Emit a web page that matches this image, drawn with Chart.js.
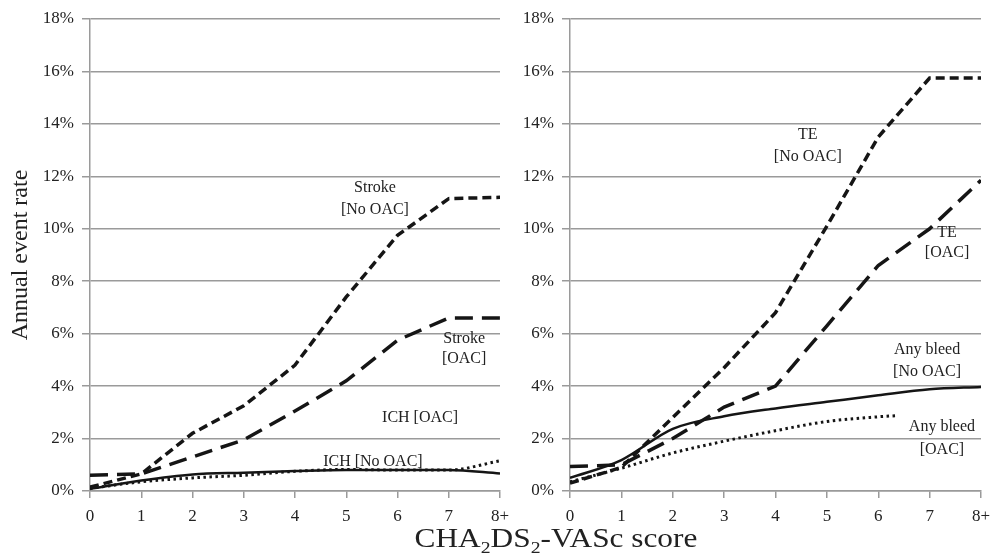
<!DOCTYPE html>
<html>
<head>
<meta charset="utf-8">
<script src="https://cdn.jsdelivr.net/npm/chart.js@4"></script>
<style>
  body { margin: 0; background: #fff; }
  #page { position: relative; width: 990px; height: 557px; font-family: "Liberation Serif", serif; }
  #gauche { position: absolute; left: 0; top: 0; }
  #droite { position: absolute; left: 510px; top: 0; }
  #titreX { position: absolute; left: 0; width: 1112px; top: 523px; text-align: center; font-size: 27px; color: #222; white-space: nowrap; transform: scaleX(1.16); transform-origin: 556px 0; }
  #titreX sub { font-size: 17px; vertical-align: -6px; line-height: 0; }
</style>
</head>
<body>
<div id="page">
  <canvas id="gauche" width="510" height="530"></canvas>
  <canvas id="droite" width="480" height="530"></canvas>
  <div id="titreX">CHA<sub>2</sub>DS<sub>2</sub>-VASc score</div>
</div>
<script>
// CHA2DS2-VASc score (8 = "8+")
const scores = [0, 1, 2, 3, 4, 5, 6, 7, 8];
const yTicks = [0, 2, 4, 6, 8, 10, 12, 14, 16, 18];

// left panel : stroke / ICH
const strokeNoOac = [0.15, 0.65, 2.2, 3.25, 4.8, 7.4, 9.75, 11.15, 11.2];
const strokeOac = [0.6, 0.65, 1.3, 1.95, 3.05, 4.2, 5.75, 6.6, 6.6];
const ichNoOac = [0.08, 0.4, 0.63, 0.7, 0.76, 0.8, 0.8, 0.8, 0.67];
const ichOac = [0.1, 0.35, 0.5, 0.6, 0.75, 0.82, 0.8, 0.8, 1.15];

// right panel : TE / any bleed
const teNoOac = [0.3, 0.9, 2.8, 4.7, 6.8, 10.1, 13.5, 15.75, 15.75];
const teOac = [0.93, 1.0, 2.0, 3.2, 4.0, 6.3, 8.6, 10.0, 11.85];
const bleedNoOac = [0.5, 1.18, 2.37, 2.85, 3.15, 3.4, 3.65, 3.88, 3.97];
const bleedOacScores = [0, 1, 2, 3, 4, 5, 6, 6.33];
const bleedOac = [0.35, 0.87, 1.45, 1.9, 2.3, 2.65, 2.83, 2.87];

const police = "Liberation Serif";
const gris = "#9a9a9a";
const noir = "#151515";

function points(xs, ys) {
  return ys.map((v, i) => ({ x: xs[i], y: v }));
}

function serie(xs, ys, dash, width, smooth) {
  return {
    data: points(xs, ys),
    borderColor: noir,
    borderWidth: width,
    borderDash: dash,
    pointRadius: 0,
    fill: false,
    tension: 0,
    cubicInterpolationMode: smooth ? "monotone" : "default"
  };
}

// labels written next to the curves, placed in data units
const etiquettes = {
  id: "etiquettes",
  afterDatasetsDraw(chart, args, opts) {
    const ctx = chart.ctx;
    const sx = chart.scales.x;
    const sy = chart.scales.y;
    ctx.save();
    ctx.textAlign = "center";
    ctx.textBaseline = "middle";
    ctx.fillStyle = "#222";
    ctx.font = "16px " + police;
    opts.items.forEach(function (it) {
      ctx.fillText(it.text, sx.getPixelForValue(it.x), sy.getPixelForValue(it.y));
    });
    ctx.restore();
  }
};

function options(largeurY, titreY, padDroite, labels) {
  return {
    responsive: false,
    animation: false,
    layout: { padding: { top: 19, right: padDroite, left: 0, bottom: 0 } },
    plugins: {
      legend: { display: false },
      tooltip: { enabled: false },
      etiquettes: { items: labels }
    },
    scales: {
      x: {
        type: "linear",
        min: 0,
        max: 8,
        afterFit: function (s) {
          s.height = 39;
          s.paddingLeft = 0;
          s.paddingRight = 0;
        },
        afterBuildTicks: function (s) { s.ticks = scores.map(v => ({ value: v })); },
        ticks: {
          font: { family: police, size: 17 },
          color: "#222",
          padding: 8,
          maxRotation: 0,
          callback: v => (v === 8 ? "8+" : v)
        },
        grid: { drawOnChartArea: false, color: gris, lineWidth: 1.5, tickLength: 7 },
        border: { color: gris, width: 1.5 }
      },
      y: {
        min: 0,
        max: 18,
        afterFit: function (s) { s.width = largeurY; },
        afterBuildTicks: function (s) { s.ticks = yTicks.map(v => ({ value: v })); },
        ticks: {
          font: { family: police, size: 17 },
          color: "#222",
          padding: 8,
          callback: v => v + "%"
        },
        grid: { color: gris, lineWidth: 1.5, tickLength: 8 },
        border: { color: gris, width: 1.5 },
        title: {
          display: titreY !== "",
          text: titreY,
          font: { family: police, size: 24 },
          color: "#222",
          padding: { top: 6, bottom: 0 }
        }
      }
    }
  };
}

new Chart(document.getElementById("gauche"), {
  type: "line",
  data: {
    datasets: [
      serie(scores, strokeNoOac, [9, 5], 3.5, false),
      serie(scores, strokeOac, [18, 9], 3.5, false),
      serie(scores, ichNoOac, [], 2.5, true),
      serie(scores, ichOac, [2.5, 3.5], 3, true)
    ]
  },
  options: options(90, "Annual event rate", 10, [
    { text: "Stroke", x: 5.56, y: 11.56 },
    { text: "[No OAC]", x: 5.56, y: 10.72 },
    { text: "Stroke", x: 7.3, y: 5.8 },
    { text: "[OAC]", x: 7.3, y: 5.03 },
    { text: "ICH [OAC]", x: 6.44, y: 2.78 },
    { text: "ICH [No OAC]", x: 5.52, y: 1.11 }
  ]),
  plugins: [etiquettes]
});

new Chart(document.getElementById("droite"), {
  type: "line",
  data: {
    datasets: [
      serie(scores, teNoOac, [9, 5], 3.5, false),
      serie(scores, teOac, [18, 9], 3.5, false),
      serie(scores, bleedNoOac, [], 2.5, true),
      serie(bleedOacScores, bleedOac, [2.5, 3.5], 3, true)
    ]
  },
  options: options(60, "", 9, [
    { text: "TE", x: 7.34, y: 9.84 },
    { text: "[OAC]", x: 7.34, y: 9.08 },
    { text: "TE", x: 4.63, y: 13.58 },
    { text: "[No OAC]", x: 4.63, y: 12.74 },
    { text: "Any bleed", x: 6.95, y: 5.38 },
    { text: "[No OAC]", x: 6.95, y: 4.54 },
    { text: "Any bleed", x: 7.24, y: 2.44 },
    { text: "[OAC]", x: 7.24, y: 1.56 }
  ]),
  plugins: [etiquettes]
});
</script>
</body>
</html>
